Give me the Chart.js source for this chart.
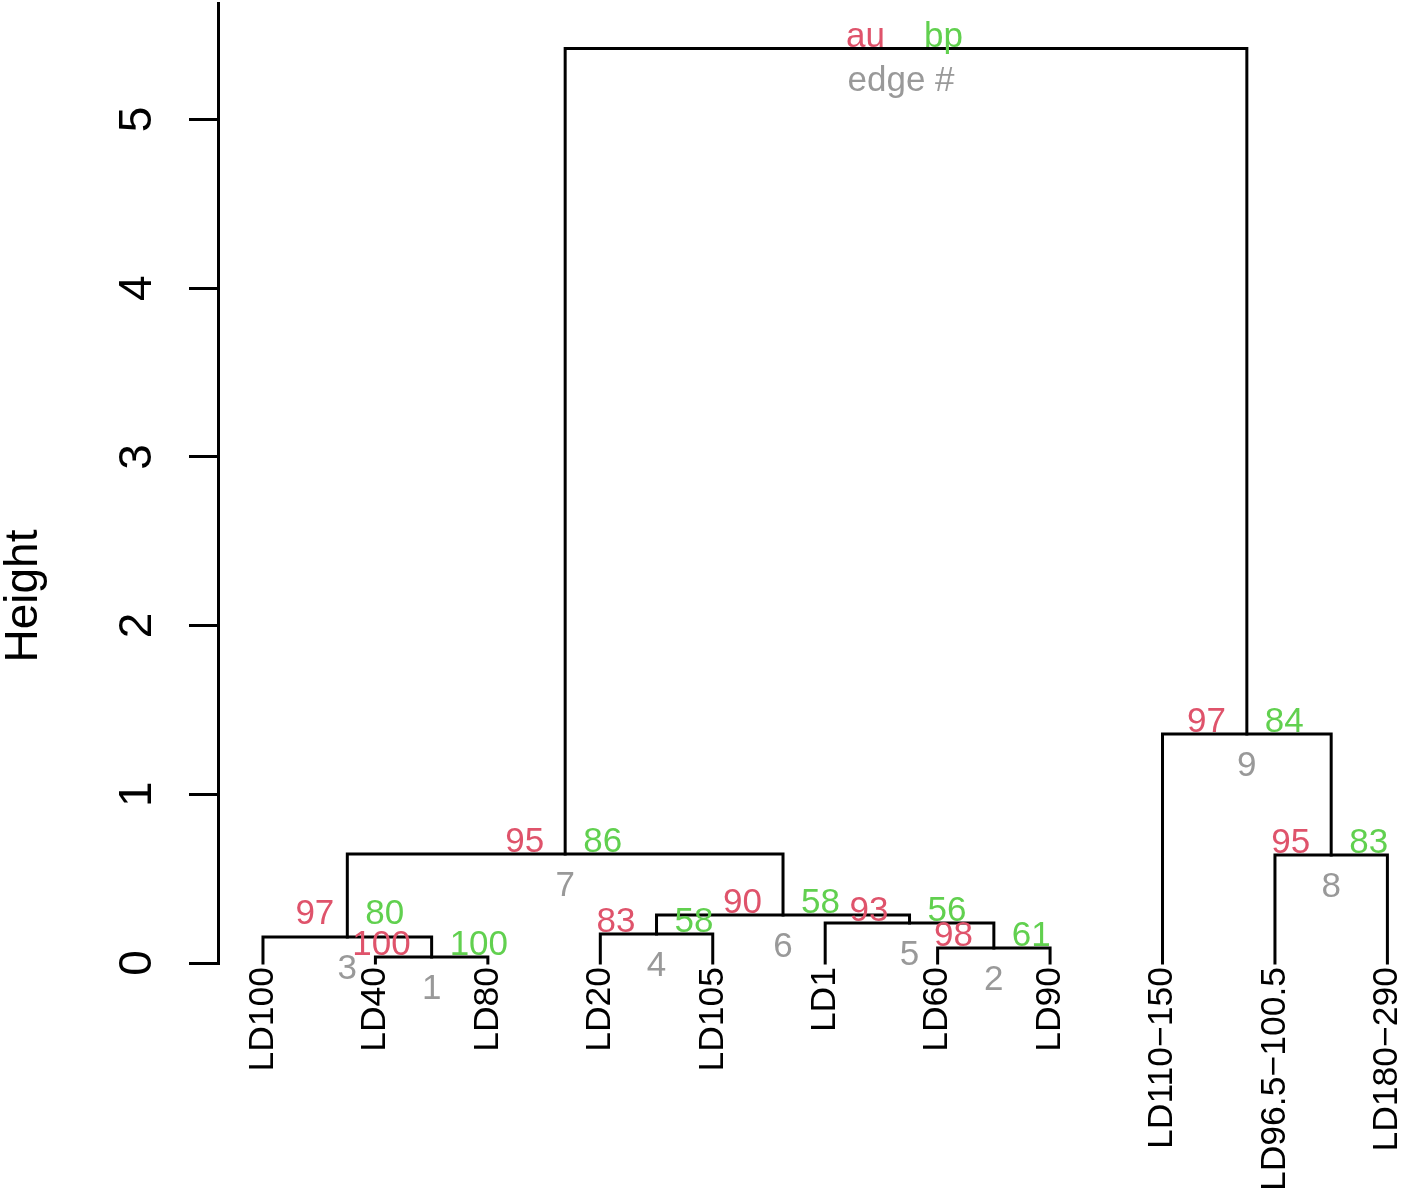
<!DOCTYPE html>
<html>
<head>
<meta charset="utf-8">
<script src="https://cdn.jsdelivr.net/npm/chart.js@4.4.1/dist/chart.umd.min.js"></script>
<style>
  html, body { margin: 0; padding: 0; background: #fff; overflow: hidden; }
  canvas { display: block; }
</style>
</head>
<body>
<canvas id="grafik" width="1434" height="1189"></canvas>
<script>
// leaves in plotting order
const daun = ['LD100', 'LD40', 'LD80', 'LD20', 'LD105', 'LD1', 'LD60', 'LD90',
  'LD110\u2212150', 'LD96.5\u2212100.5', 'LD180\u2212290'];

// merges like hclust: negative = leaf (1-based in daun), positive = earlier merge
const gabungKiri  = [-2, -7, -1, -4, -6, 4, 3, -10, -9, 7];
const gabungKanan = [-3, -8,  1, -5,  2, 5, 6, -11,  8, 9];
const tinggi = [0.036, 0.089, 0.154, 0.172, 0.237, 0.284, 0.646, 0.640, 1.357, 5.42];

const nilaiAU = ['100', '98', '97', '83', '93', '90', '95', '95', '97', 'au'];
const nilaiBP = ['100', '61', '80', '58', '56', '58', '86', '83', '84', 'bp'];
const nomorEdge = ['1', '2', '3', '4', '5', '6', '7', '8', '9', 'edge #'];

const tickTinggi = [0, 1, 2, 3, 4, 5];

const MERAH = '#DF536B';
const HIJAU = '#61D04F';
const ABU = '#999999';
const FONT = '"Liberation Sans", Arial, Helvetica, sans-serif';

// x and height of each merge node
const nodeX = [];
function posisi(id) {
  if (id < 0) return { x: -id, h: 0 };
  return { x: nodeX[id - 1], h: tinggi[id - 1] };
}
const dataset = [];
for (let i = 0; i < tinggi.length; i++) {
  const a = posisi(gabungKiri[i]);
  const b = posisi(gabungKanan[i]);
  nodeX.push((a.x + b.x) / 2);
  dataset.push({
    data: [
      { x: a.x, y: a.h },
      { x: a.x, y: tinggi[i] },
      { x: b.x, y: tinggi[i] },
      { x: b.x, y: b.h }
    ],
    showLine: true,
    borderColor: '#000',
    borderWidth: 3,
    borderCapStyle: 'square',
    borderJoinStyle: 'miter',
    pointRadius: 0,
    tension: 0,
    clip: false
  });
}

// text labels: au / bp / edge number, y tick labels and axis title
const labelPlugin = {
  id: 'labelPv',
  afterDraw(chart) {
    const c = chart.ctx;
    const sx = chart.scales.x;
    const sy = chart.scales.y;
    c.save();
    c.font = '35px ' + FONT;
    c.textBaseline = 'alphabetic';
    for (let i = 0; i < tinggi.length; i++) {
      const px = sx.getPixelForValue(nodeX[i]);
      const py = sy.getPixelForValue(tinggi[i]);
      // edge 3 label sits a bit higher/closer in the original
      const geser = nomorEdge[i] === '3';
      const naik = geser ? 13 : 2;
      c.fillStyle = MERAH;
      c.textAlign = 'right';
      c.fillText(nilaiAU[i], px - (geser ? 13 : 21), py - naik);
      c.fillStyle = HIJAU;
      c.textAlign = 'left';
      c.fillText(nilaiBP[i], px + 18, py - naik);
      c.fillStyle = ABU;
      c.textAlign = 'center';
      c.fillText(nomorEdge[i], nomorEdge[i].length > 1 ? px - 5 : px, py + 42);
    }

    c.fillStyle = '#000';
    c.font = '46px ' + FONT;
    c.textAlign = 'center';
    tickTinggi.forEach(v => {
      c.save();
      c.translate(151, sy.getPixelForValue(v));
      c.rotate(-Math.PI / 2);
      c.fillText(String(v), 0, 0);
      c.restore();
    });

    c.save();
    c.translate(37, 596);
    c.rotate(-Math.PI / 2);
    c.fillText('Height', 0, 0);
    c.restore();
    c.restore();
  }
};

const ctx = document.getElementById('grafik').getContext('2d');

const chart = new Chart(ctx, {
  type: 'scatter',
  data: { datasets: dataset },
  plugins: [labelPlugin],
  options: {
    responsive: false,
    animation: false,
    layout: { padding: { top: 3, left: 0, right: 0, bottom: 0 } },
    plugins: {
      legend: { display: false },
      tooltip: { enabled: false }
    },
    scales: {
      x: {
        type: 'linear',
        min: 0.6,
        max: 11.4,
        afterBuildTicks: s => { s.ticks = daun.map((_, i) => ({ value: i + 1 })); },
        afterFit: s => { s.height = 226; },
        grid: { display: false, drawTicks: false },
        border: { display: false },
        ticks: {
          autoSkip: false,
          minRotation: 90,
          maxRotation: 90,
          padding: 4,
          color: '#000',
          font: { family: FONT, size: 35.5 },
          callback: v => daun[v - 1]
        }
      },
      y: {
        type: 'linear',
        min: 0,
        max: 5.69,
        afterBuildTicks: s => { s.ticks = tickTinggi.map(v => ({ value: v })); },
        afterFit: s => { s.width = 218; },
        ticks: { display: false },
        grid: { drawOnChartArea: false, drawTicks: true, tickLength: 29, color: '#000', lineWidth: 3 },
        border: { display: true, color: '#000', width: 3 }
      }
    }
  }
});
</script>
</body>
</html>
